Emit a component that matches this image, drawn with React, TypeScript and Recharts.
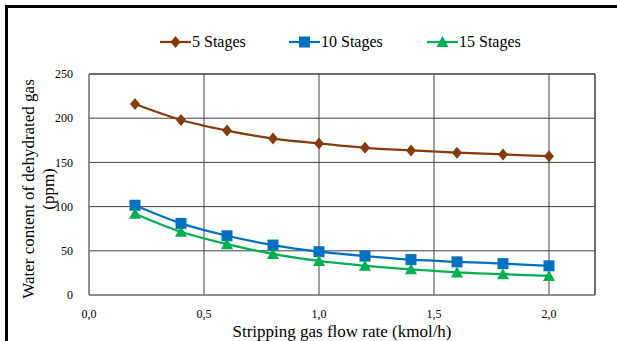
import { LineChart, Line, XAxis, YAxis, CartesianGrid, ReferenceLine } from 'recharts'

const flowRates = [0.2, 0.4, 0.6, 0.8, 1.0, 1.2, 1.4, 1.6, 1.8, 2.0]
const stages5 = [216, 198, 186, 177, 171.5, 166.5, 163.5, 161, 159, 157]
const stages10 = [101.5, 81, 67, 56.5, 49, 44, 40, 37.5, 35.5, 33]
const stages15 = [92, 71.5, 57.5, 46.5, 38.5, 33, 29, 25.5, 23.5, 21.5]
const xTicks = [0, 0.5, 1.0, 1.5, 2.0]
const yTicks = [0, 50, 100, 150, 200, 250]

const BROWN = '#843C0C'
const BLUE = '#0070C0'
const GREEN = '#00B050'
const GRID = '#404040'
const FONT = 'Times New Roman, Liberation Serif, DejaVu Serif, serif'

const data = flowRates.map((x, i) => ({
  x,
  s5: stages5[i],
  s10: stages10[i],
  s15: stages15[i],
}))

function Marker({ shape, color, cx, cy }: { shape: string; color: string; cx: number; cy: number }) {
  if (shape === 'diamond') {
    return <polygon points={`${cx},${cy - 6} ${cx + 5},${cy} ${cx},${cy + 6} ${cx - 5},${cy}`} fill={color} />
  }
  if (shape === 'square') {
    return <rect x={cx - 5.5} y={cy - 5.5} width={11} height={11} fill={color} />
  }
  return <polygon points={`${cx},${cy - 6} ${cx + 6},${cy + 5} ${cx - 6},${cy + 5}`} fill={color} />
}

const makeDot = (shape: string, color: string) => (props: any) => (
  <Marker key={`${shape}-${props.index}`} shape={shape} color={color} cx={props.cx} cy={props.cy} />
)

const legendItems = [
  { name: '5 Stages', color: BROWN, shape: 'diamond', left: 160 },
  { name: '10 Stages', color: BLUE, shape: 'square', left: 289 },
  { name: '15 Stages', color: GREEN, shape: 'triangle', left: 427 },
]

function YLabel() {
  return (
    <g>
      <text transform="translate(34,189) rotate(-90)" textAnchor="middle" fontSize={17} fill="#000" fontFamily={FONT}>
        Water content of dehydrated gas
      </text>
      <text transform="translate(54,189) rotate(-90)" textAnchor="middle" fontSize={17} fill="#000" fontFamily={FONT}>
        (ppm)
      </text>
    </g>
  )
}

export default function App() {
  return (
    <div style={{ position: 'absolute', left: 0, top: 0, width: 617, height: 341, background: '#fff', fontFamily: FONT }}>
      <div
        style={{
          position: 'absolute',
          left: 5,
          top: 5,
          width: 612,
          height: 336,
          borderTop: '3px solid #000',
          borderLeft: '3px solid #000',
          boxSizing: 'border-box',
        }}
      />
      {/* legend */}
      {legendItems.map((item) => (
        <div
          key={item.name}
          style={{ position: 'absolute', left: item.left, top: 32, height: 20, display: 'flex', alignItems: 'center' }}
        >
          <svg width={31} height={20}>
            <line x1={0} y1={10} x2={31} y2={10} stroke={item.color} strokeWidth={2.25} />
            <Marker shape={item.shape} color={item.color} cx={15.5} cy={10} />
          </svg>
          <span style={{ fontFamily: FONT, fontSize: 16, marginLeft: 1, color: '#000' }}>{item.name}</span>
        </div>
      ))}
      <div style={{ position: 'absolute', left: 0, top: 0 }}>
        <LineChart
          width={617}
          height={341}
          data={data}
          margin={{ top: 74, right: 22, bottom: 16, left: 0 }}
          style={{ fontFamily: FONT }}
        >
          <CartesianGrid stroke={GRID} strokeWidth={1} />
          <XAxis
            dataKey="x"
            type="number"
            domain={[0, 2.2]}
            ticks={xTicks}
            height={30}
            tickFormatter={(v: number) => v.toFixed(1).replace('.', ',')}
            axisLine={{ stroke: '#808080' }}
            tickLine={false}
            tick={{ fontFamily: FONT, fontSize: 12, fill: '#000' }}
            tickMargin={8}
            label={{
              value: 'Stripping gas flow rate (kmol/h)',
              position: 'insideBottom',
              offset: -12,
              style: { fontFamily: FONT, fontSize: 17, fill: '#000' },
            }}
          />
          <YAxis
            type="number"
            domain={[0, 250]}
            ticks={yTicks}
            width={89}
            axisLine={{ stroke: '#808080' }}
            tickLine={false}
            tick={{ fontFamily: FONT, fontSize: 12, fill: '#000' }}
            tickMargin={10}
            label={<YLabel />}
          />
          <ReferenceLine x={2.2} stroke={GRID} />
          <ReferenceLine y={250} stroke={GRID} />
          <Line
            type="monotone"
            dataKey="s5"
            stroke={BROWN}
            strokeWidth={2.25}
            dot={makeDot('diamond', BROWN)}
            isAnimationActive={false}
          />
          <Line
            type="monotone"
            dataKey="s10"
            stroke={BLUE}
            strokeWidth={2.25}
            dot={makeDot('square', BLUE)}
            isAnimationActive={false}
          />
          <Line
            type="monotone"
            dataKey="s15"
            stroke={GREEN}
            strokeWidth={2.25}
            dot={makeDot('triangle', GREEN)}
            isAnimationActive={false}
          />
        </LineChart>
      </div>
    </div>
  )
}
